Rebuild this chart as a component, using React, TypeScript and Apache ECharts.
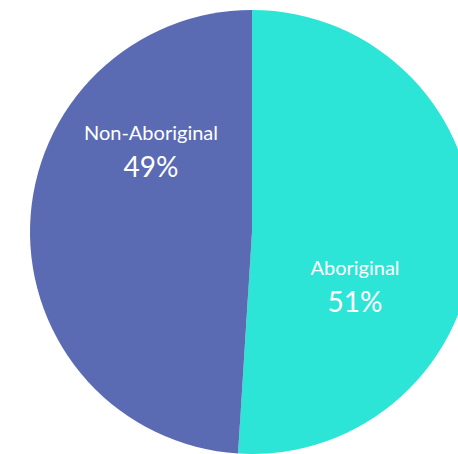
import React, { useEffect, useRef } from "react";
import * as echarts from "echarts";

const categories = ["Aboriginal", "Non-Aboriginal"];
const values = [51, 49];
const colors = ["#2DE5D6", "#5A6AB3"];
const labelCenters = [
  [355, 285],
  [151, 150],
];

export default function App() {
  const ref = useRef<HTMLDivElement>(null);
  useEffect(() => {
    document.body.style.margin = "0";
    const chart = echarts.init(ref.current!, null, { renderer: "svg" });
    chart.setOption({
      animation: false,
      series: [
        {
          type: "pie",
          center: [252, 232],
          radius: 222,
          startAngle: 90,
          clockwise: true,
          silent: true,
          data: categories.map((c, i) => ({
            name: c,
            value: values[i],
            itemStyle: { color: colors[i] },
          })),
          label: {
            show: true,
            position: "inside",
            color: "#fff",
            fontFamily: "Lato",
            formatter: (p: any) => `{n|${p.name}}\n{p|${p.value}%}`,
            rich: {
              n: { fontSize: 20, lineHeight: 31, color: "#fff", fontFamily: "Lato", align: "center" },
              p: { fontSize: 28, lineHeight: 36, color: "#fff", fontFamily: "Lato", align: "center" },
            },
          },
          labelLine: { show: false },
          labelLayout: (params: any) => {
            const c = labelCenters[params.dataIndex];
            return { x: c[0], y: c[1], align: "center", verticalAlign: "middle" };
          },
        },
      ],
    });
    return () => chart.dispose();
  }, []);
  return <div ref={ref} style={{ width: 458, height: 454 }} />;
}
